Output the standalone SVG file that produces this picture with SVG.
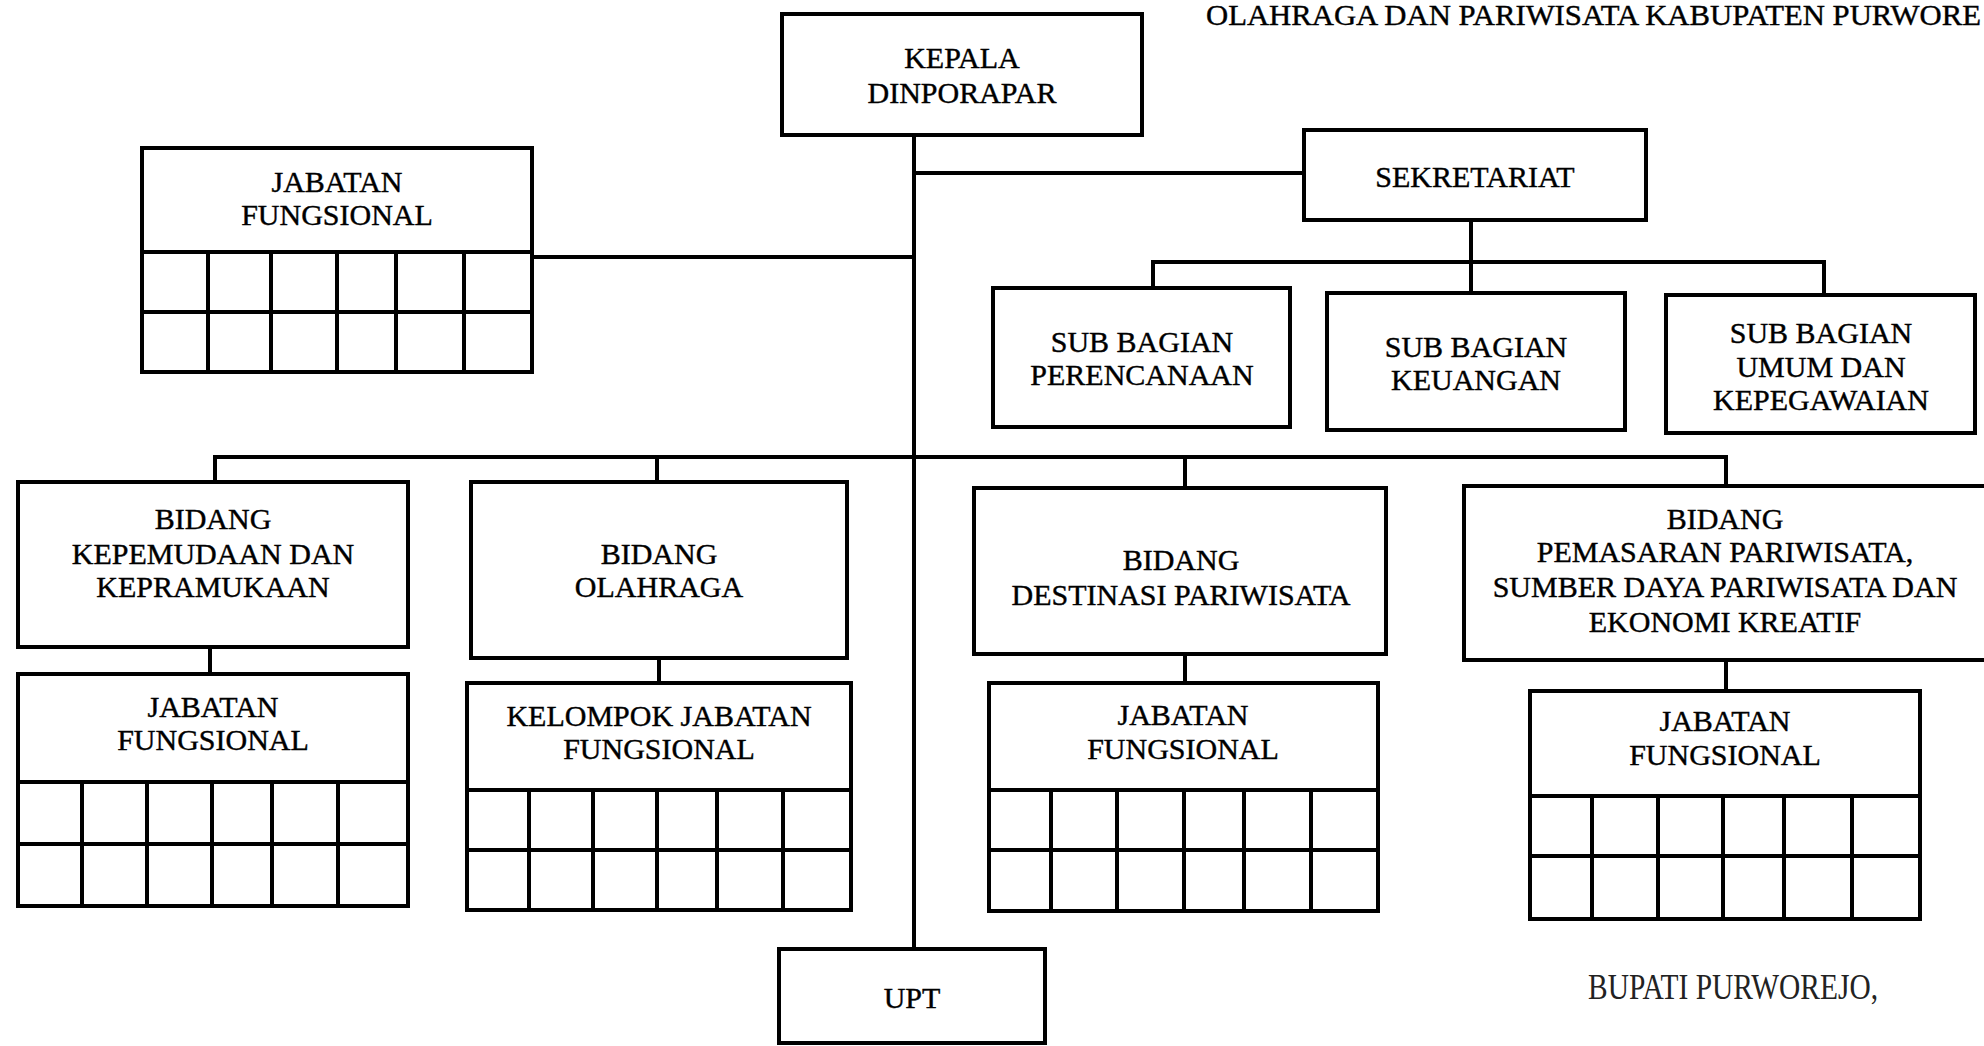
<svg xmlns="http://www.w3.org/2000/svg" width="1984" height="1046" viewBox="0 0 1984 1046">
<style>
.box{fill:#fff;stroke:#000;stroke-width:4}
.ln{fill:none;stroke:#000;stroke-width:4}
.gl{fill:none;stroke:#000;stroke-width:4}
.t{font-family:"Liberation Serif","Times New Roman",serif;font-size:30px;fill:#000;text-anchor:middle;stroke:#000;stroke-width:0.4}
.title{font-family:"Liberation Serif","Times New Roman",serif;font-size:30px;fill:#000;stroke:#000;stroke-width:0.4}
.sig{font-family:"Liberation Serif","Times New Roman",serif;font-size:36px;fill:#222}
</style>
<rect width="1984" height="1046" fill="#fff"/>
<text class="title" x="1206" y="25" textLength="775" lengthAdjust="spacingAndGlyphs">OLAHRAGA DAN PARIWISATA KABUPATEN PURWORE</text>

<g id="connectors">
<path class="ln" d="M914 135V949"/>
<path class="ln" d="M914 173H1304"/>
<path class="ln" d="M532 257H914"/>
<path class="ln" d="M1471 220V293"/>
<path class="ln" d="M1153 288V262H1824V295"/>
<path class="ln" d="M215 482V457H1726V486"/>
<path class="ln" d="M657 457V482"/>
<path class="ln" d="M1185 457V488"/>
<path class="ln" d="M210 647V674"/>
<path class="ln" d="M659 658V683"/>
<path class="ln" d="M1185 654V683"/>
<path class="ln" d="M1726 660V691"/>
</g>

<g id="kepala">
<rect class="box" x="782" y="14" width="360" height="121"/>
<text class="t" x="962" y="68">KEPALA</text>
<text class="t" x="962" y="103">DINPORAPAR</text>
</g>

<g id="sekretariat">
<rect class="box" x="1304" y="130" width="342" height="90"/>
<text class="t" x="1475" y="187">SEKRETARIAT</text>
</g>

<g id="jf-top">
<rect class="box" x="142" y="148" width="390" height="224"/>
<path class="gl" d="M142 252H532M142 312H532M208 252V372M271 252V372M337 252V372M396 252V372M464 252V372"/>
<text class="t" x="337" y="192">JABATAN</text>
<text class="t" x="337" y="225">FUNGSIONAL</text>
</g>

<g id="sub-perencanaan">
<rect class="box" x="993" y="288" width="297" height="139"/>
<text class="t" x="1142" y="352">SUB BAGIAN</text>
<text class="t" x="1142" y="385">PERENCANAAN</text>
</g>

<g id="sub-keuangan">
<rect class="box" x="1327" y="293" width="298" height="137"/>
<text class="t" x="1476" y="357">SUB BAGIAN</text>
<text class="t" x="1476" y="390">KEUANGAN</text>
</g>

<g id="sub-umum">
<rect class="box" x="1666" y="295" width="309" height="138"/>
<text class="t" x="1821" y="343">SUB BAGIAN</text>
<text class="t" x="1821" y="377">UMUM DAN</text>
<text class="t" x="1821" y="410">KEPEGAWAIAN</text>
</g>

<g id="bidang-kepemudaan">
<rect class="box" x="18" y="482" width="390" height="165"/>
<text class="t" x="213" y="529">BIDANG</text>
<text class="t" x="213" y="564">KEPEMUDAAN DAN</text>
<text class="t" x="213" y="597">KEPRAMUKAAN</text>
</g>

<g id="jf-kepemudaan">
<rect class="box" x="18" y="674" width="390" height="232"/>
<path class="gl" d="M18 782H408M18 844H408M82 782V906M147 782V906M212 782V906M272 782V906M338 782V906"/>
<text class="t" x="213" y="717">JABATAN</text>
<text class="t" x="213" y="750">FUNGSIONAL</text>
</g>

<g id="bidang-olahraga">
<rect class="box" x="471" y="482" width="376" height="176"/>
<text class="t" x="659" y="564">BIDANG</text>
<text class="t" x="659" y="597">OLAHRAGA</text>
</g>

<g id="kelompok-jf">
<rect class="box" x="467" y="683" width="384" height="227"/>
<path class="gl" d="M467 790H851M467 850H851M529 790V910M593 790V910M657 790V910M717 790V910M783 790V910"/>
<text class="t" x="659" y="726">KELOMPOK JABATAN</text>
<text class="t" x="659" y="759">FUNGSIONAL</text>
</g>

<g id="bidang-destinasi">
<rect class="box" x="974" y="488" width="412" height="166"/>
<text class="t" x="1181" y="570">BIDANG</text>
<text class="t" x="1181" y="605">DESTINASI PARIWISATA</text>
</g>

<g id="jf-destinasi">
<rect class="box" x="989" y="683" width="389" height="228"/>
<path class="gl" d="M989 790H1378M989 850H1378M1051 790V911M1117 790V911M1184 790V911M1244 790V911M1311 790V911"/>
<text class="t" x="1183" y="725">JABATAN</text>
<text class="t" x="1183" y="759">FUNGSIONAL</text>
</g>

<g id="bidang-pemasaran">
<rect class="box" x="1464" y="486" width="524" height="174"/>
<text class="t" x="1725" y="529">BIDANG</text>
<text class="t" x="1725" y="562">PEMASARAN PARIWISATA,</text>
<text class="t" x="1725" y="597">SUMBER DAYA PARIWISATA DAN</text>
<text class="t" x="1725" y="632">EKONOMI KREATIF</text>
</g>

<g id="jf-pemasaran">
<rect class="box" x="1530" y="691" width="390" height="228"/>
<path class="gl" d="M1530 796H1920M1530 856H1920M1592 796V919M1658 796V919M1723 796V919M1784 796V919M1852 796V919"/>
<text class="t" x="1725" y="731">JABATAN</text>
<text class="t" x="1725" y="765">FUNGSIONAL</text>
</g>

<g id="upt">
<rect class="box" x="779" y="949" width="266" height="94"/>
<text class="t" x="912" y="1008">UPT</text>
</g>

<text class="sig" x="1588" y="999" textLength="290" lengthAdjust="spacingAndGlyphs">BUPATI PURWOREJO,</text>
</svg>
